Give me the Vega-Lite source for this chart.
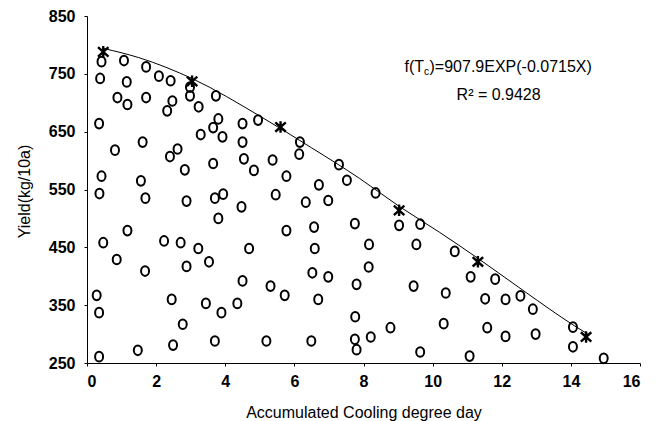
{
  "$schema": "https://vega.github.io/schema/vega-lite/v6.json",
  "width": 553,
  "height": 347,
  "autosize": {"type": "none"},
  "padding": {"left": 87, "top": 16, "right": 24, "bottom": 58},
  "background": "white",
  "config": {
    "view": {"stroke": null},
    "font": "Liberation Sans",
    "axis": {
      "grid": false,
      "domainColor": "black",
      "domainWidth": 1,
      "tickColor": "black",
      "tickSize": 3,
      "labelFont": "Liberation Sans",
      "labelFontWeight": "bold",
      "labelFontSize": 16,
      "labelColor": "black",
      "titleFont": "Liberation Sans",
      "titleFontWeight": "normal",
      "titleColor": "black"
    }
  },
  "datasets": {
    "obs": [
      {"x": 0.42, "y": 771}, {"x": 1.07, "y": 773}, {"x": 1.71, "y": 762}, {"x": 2.08, "y": 746},
      {"x": 2.42, "y": 738}, {"x": 0.38, "y": 742}, {"x": 1.15, "y": 736}, {"x": 2.98, "y": 727},
      {"x": 2.98, "y": 712}, {"x": 3.73, "y": 712}, {"x": 0.88, "y": 709}, {"x": 1.17, "y": 697},
      {"x": 1.71, "y": 709}, {"x": 2.47, "y": 703}, {"x": 2.32, "y": 686}, {"x": 3.23, "y": 693},
      {"x": 3.80, "y": 672}, {"x": 3.65, "y": 657}, {"x": 3.92, "y": 641}, {"x": 3.29, "y": 645},
      {"x": 4.50, "y": 664}, {"x": 4.50, "y": 632}, {"x": 4.95, "y": 670}, {"x": 6.16, "y": 632},
      {"x": 6.14, "y": 611}, {"x": 7.29, "y": 593}, {"x": 7.52, "y": 566}, {"x": 0.35, "y": 664},
      {"x": 0.81, "y": 618}, {"x": 1.61, "y": 632}, {"x": 2.62, "y": 620}, {"x": 2.40, "y": 607},
      {"x": 3.65, "y": 595}, {"x": 2.83, "y": 584}, {"x": 4.54, "y": 603}, {"x": 4.83, "y": 583},
      {"x": 5.37, "y": 601}, {"x": 5.77, "y": 573}, {"x": 6.71, "y": 558}, {"x": 0.42, "y": 573},
      {"x": 1.56, "y": 565}, {"x": 0.36, "y": 543},
      {"x": 1.69, "y": 535}, {"x": 2.88, "y": 530}, {"x": 3.70, "y": 535}, {"x": 3.94, "y": 542},
      {"x": 4.47, "y": 520}, {"x": 5.46, "y": 541}, {"x": 6.33, "y": 528}, {"x": 6.98, "y": 531},
      {"x": 7.75, "y": 491}, {"x": 3.80, "y": 500}, {"x": 1.17, "y": 479}, {"x": 5.77, "y": 479},
      {"x": 6.57, "y": 485}, {"x": 0.47, "y": 458}, {"x": 2.23, "y": 461}, {"x": 2.71, "y": 458},
      {"x": 3.22, "y": 448}, {"x": 4.69, "y": 448}, {"x": 6.59, "y": 448}, {"x": 0.86, "y": 429},
      {"x": 3.53, "y": 425}, {"x": 2.88, "y": 417}, {"x": 1.68, "y": 409}, {"x": 6.52, "y": 406},
      {"x": 6.98, "y": 399}, {"x": 7.80, "y": 386}, {"x": 4.50, "y": 392}, {"x": 5.31, "y": 383},
      {"x": 5.72, "y": 367}, {"x": 6.69, "y": 360}, {"x": 0.28, "y": 367}, {"x": 0.35, "y": 337},
      {"x": 2.45, "y": 360}, {"x": 3.44, "y": 353}, {"x": 4.35, "y": 353}, {"x": 3.89, "y": 337},
      {"x": 7.76, "y": 330}, {"x": 2.77, "y": 317}, {"x": 2.49, "y": 281}, {"x": 3.70, "y": 288},
      {"x": 5.19, "y": 288}, {"x": 6.49, "y": 288}, {"x": 7.75, "y": 291}, {"x": 7.80, "y": 273},
      {"x": 1.47, "y": 272}, {"x": 0.35, "y": 261},
      {"x": 8.35, "y": 544}, {"x": 9.03, "y": 488}, {"x": 9.64, "y": 490}, {"x": 8.16, "y": 455},
      {"x": 9.53, "y": 455}, {"x": 10.64, "y": 443}, {"x": 8.15, "y": 416}, {"x": 11.10, "y": 399},
      {"x": 11.81, "y": 395}, {"x": 9.45, "y": 383}, {"x": 10.38, "y": 371}, {"x": 12.54, "y": 366},
      {"x": 11.52, "y": 361}, {"x": 12.11, "y": 360}, {"x": 12.90, "y": 343}, {"x": 8.78, "y": 311},
      {"x": 10.32, "y": 318}, {"x": 11.58, "y": 311}, {"x": 14.06, "y": 312}, {"x": 8.21, "y": 295},
      {"x": 12.11, "y": 296}, {"x": 12.98, "y": 300}, {"x": 9.64, "y": 269}, {"x": 14.06, "y": 278},
      {"x": 11.07, "y": 262}, {"x": 14.95, "y": 258}
    ],
    "fit": [
      {"x": 0.47, "y": 788}, {"x": 3.04, "y": 737}, {"x": 5.60, "y": 658},
      {"x": 9.03, "y": 514}, {"x": 11.31, "y": 425}, {"x": 14.44, "y": 295}
    ],
    "curve": [
      {"x": 0.47, "y": 794}, {"x": 1.5, "y": 778}, {"x": 3.07, "y": 741}, {"x": 5.0, "y": 677},
      {"x": 6.5, "y": 622}, {"x": 7.89, "y": 569}, {"x": 9.03, "y": 521}, {"x": 10.2, "y": 476},
      {"x": 11.31, "y": 431}, {"x": 12.7, "y": 372}, {"x": 14.06, "y": 316}, {"x": 14.49, "y": 300}
    ]
  },
  "layer": [
    {
      "data": {"name": "curve"},
      "mark": {"type": "line", "color": "black", "strokeWidth": 1, "interpolate": "monotone"},
      "encoding": {
        "x": {
          "field": "x", "type": "quantitative",
          "scale": {"domain": [0, 16], "nice": false, "zero": false},
          "axis": {"values": [0, 2, 4, 6, 8, 10, 12, 14, 16], "title": "Accumulated Cooling degree day",
                   "titleFontSize": 16, "titleY": 54, "titleBaseline": "alphabetic", "labelPadding": 7}
        },
        "y": {
          "field": "y", "type": "quantitative",
          "scale": {"domain": [250, 850], "nice": false, "zero": false},
          "axis": {"values": [250, 350, 450, 550, 650, 750, 850], "title": "Yield(kg/10a)",
                   "titleFontSize": 16, "titleX": -55, "titleY": 175, "titleAlign": "center", "titleAngle": 270,
                   "titleBaseline": "bottom", "labelPadding": 9}
        }
      }
    },
    {
      "data": {"name": "obs"},
      "mark": {"type": "point", "filled": false, "stroke": "black", "strokeWidth": 2, "opacity": 1,
               "size": 100, "shape": "M0,-0.97A0.8,0.97 0 1,1 0,0.97A0.8,0.97 0 1,1 0,-0.97Z"},
      "encoding": {
        "x": {"field": "x", "type": "quantitative"},
        "y": {"field": "y", "type": "quantitative"}
      }
    },
    {
      "data": {"name": "fit"},
      "mark": {"type": "point", "filled": false, "stroke": "black", "strokeWidth": 2.4, "opacity": 1,
               "size": 110, "shape": "M-1,-0.9L1,0.9M-1,0.9L1,-0.9M0,-1.1L0,1.1"},
      "encoding": {
        "x": {"field": "x", "type": "quantitative"},
        "y": {"field": "y", "type": "quantitative"}
      }
    },
    {
      "data": {"values": [{}]},
      "mark": {"type": "text", "text": "f(T", "align": "right", "baseline": "alphabetic", "fontSize": 16, "color": "black"},
      "encoding": {"x": {"datum": 9.75}, "y": {"datum": 753}}
    },
    {
      "data": {"values": [{}]},
      "mark": {"type": "text", "text": "c", "align": "left", "baseline": "alphabetic", "fontSize": 10, "dy": 3, "color": "black"},
      "encoding": {"x": {"datum": 9.75}, "y": {"datum": 753}}
    },
    {
      "data": {"values": [{}]},
      "mark": {"type": "text", "text": ")=907.9EXP(-0.0715X)", "align": "left", "baseline": "alphabetic", "fontSize": 16, "color": "black"},
      "encoding": {"x": {"datum": 9.91}, "y": {"datum": 753}}
    },
    {
      "data": {"values": [{}]},
      "mark": {"type": "text", "text": "R² = 0.9428", "align": "center", "baseline": "alphabetic", "fontSize": 16, "color": "black"},
      "encoding": {"x": {"datum": 11.91}, "y": {"datum": 704.7}}
    }
  ]
}
